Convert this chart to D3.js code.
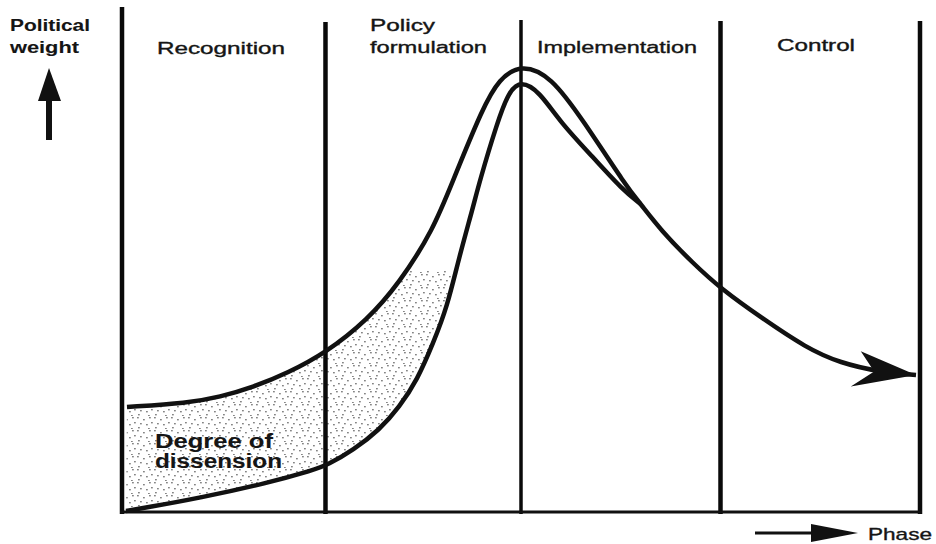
<!DOCTYPE html>
<html>
<head>
<meta charset="utf-8">
<script src="https://cdn.jsdelivr.net/npm/d3@7"></script>
<style>
  body { margin:0; background:#fff; }
  svg text { font-family: "Liberation Sans", Arial, sans-serif; fill:#151515; stroke:#151515; stroke-width:0.35px; }
</style>
</head>
<body>
<svg id="chart" width="936" height="544"></svg>
<script>
// phases along the x axis (units: phase index), boundaries between them
const phases = ["Recognition", "Policy formulation", "Implementation", "Control"]
const phaseBounds = [0, 1.02, 2.0, 3.0, 4.0]

// upper curve: political weight (0-100) by phase position, incl. the common tail
const upperCurve = [
  [0.025, 20.8], [0.33, 21.6], [0.49, 22.8], [0.66, 24.8], [0.83, 27.6],
  [1.02, 31.6], [1.23, 38.2], [1.39, 45.6], [1.56, 56.2], [1.66, 66.2],
  [1.81, 80.8], [1.89, 86.4], [2.0, 89.4], [2.15, 87.0], [2.31, 78.2],
  [2.53, 64.8], [2.60, 61.4], [2.70, 56.2], [2.86, 49.6], [3.01, 44.2],
  [3.20, 38.8], [3.43, 32.6], [3.60, 29.6], [3.80, 27.8], [3.98, 27.2]
]
// lower curve: rises later, meets the upper curve after the peak
const lowerCurve = [
  [0.02, 0], [0.11, 0.6], [0.39, 2.6], [0.73, 5.6], [0.96, 8.2],
  [1.03, 9.2], [1.16, 12.2], [1.29, 16.2], [1.39, 20.8], [1.48, 26.2],
  [1.56, 33.6], [1.63, 40.8], [1.69, 50.8], [1.76, 60.8], [1.79, 65.6],
  [1.88, 77.6], [1.94, 84.0], [2.0, 86.0], [2.09, 84.0], [2.20, 77.6],
  [2.36, 70.8], [2.51, 64.2], [2.60, 61.4]
]
const axisLabels = { y: ["Political", "weight"], x: "Phase" }
const areaLabel = ["Degree of", "dissension"]

const svg = d3.select("#chart")
const x = d3.scaleLinear().domain([0, 4]).range([122, 920])
const y = d3.scaleLinear().domain([0, 100]).range([511, 11])

//stipple texture for the dissension area
const defs = svg.append("defs")
const pat = defs.append("pattern").attr("id","stip").attr("patternUnits","userSpaceOnUse")
  .attr("width", 17).attr("height", 13)
;[[1,1],[7,3],[13,1],[4,7],[10,8],[15,6],[2,11],[12,12]].forEach(p => {
  pat.append("rect").attr("x",p[0]).attr("y",p[1]).attr("width",1.8).attr("height",1.4)
    .attr("fill","#333").attr("opacity",0.6)
})
defs.append("clipPath").attr("id","stipClip").append("rect")
  .attr("x", x(0)).attr("y", y(48)).attr("width", 400).attr("height", 300)

defs.append("marker").attr("id","head").attr("markerUnits","userSpaceOnUse")
  .attr("viewBox","-66 -22 68 44").attr("refX",0).attr("refY",0)
  .attr("markerWidth",68).attr("markerHeight",44).attr("orient","auto")
  .append("path").attr("d","M0,0 L-57,-19 L-42,0 L-64,17 Z").attr("fill","#111")

const line = d3.line().x(d=>x(d[0])).y(d=>y(d[1])).curve(d3.curveBasis)

// area between the curves, up to the merge point
let mergeIdx = upperCurve.findIndex(d => d[0] >= 2.60)
let upPart = upperCurve.slice(0, mergeIdx+1)
let areaPath = line(upPart) + line(lowerCurve.slice().reverse()).replace(/^M/,"L") + "Z"
svg.append("path").attr("d", areaPath)
  .attr("fill","url(#stip)").attr("clip-path","url(#stipClip)")

// phase boundaries
const lineTop = [7, 22, 20, 21, 21]
svg.selectAll("line.phase").data(phaseBounds).enter().append("line")
  .attr("class","phase")
  .attr("x1", d=>x(d)).attr("x2", d=>x(d))
  .attr("y1", (d,i)=>lineTop[i]).attr("y2", y(0)+3)
  .attr("stroke","#0a0a0a").attr("stroke-width", (d,i)=> i==2 ? 3.5 : 4.5)

// baseline
svg.append("line").attr("x1", x(0)-2).attr("x2", x(4)+2).attr("y1", y(0)+1).attr("y2", y(0)+1)
  .attr("stroke","#111").attr("stroke-width",3)

// curves
svg.append("path").attr("d", line(lowerCurve)).attr("fill","none")
  .attr("stroke","#111").attr("stroke-width",4.5).attr("stroke-linejoin","round")
svg.append("path").attr("d", line(upperCurve)).attr("fill","none")
  .attr("stroke","#111").attr("stroke-width",4.5).attr("stroke-linejoin","round")
  .attr("marker-end","url(#head)")

// phase labels
const phaseText = [
  {lines:["Recognition"], x:157, w:[128], y:[54]},
  {lines:["Policy","formulation"], x:370, w:[65,117], y:[31,53]},
  {lines:["Implementation"], x:537, w:[160], y:[53]},
  {lines:["Control"], x:777, w:[78], y:[51]}
]
phases.forEach((p,i) => {
  let t = phaseText[i]
  t.lines.forEach((s,j) => {
    svg.append("text").attr("x", t.x).attr("y", t.y[j]).text(s)
      .attr("font-size", 16).attr("textLength", t.w[j]).attr("lengthAdjust","spacingAndGlyphs")
  })
})

// y axis label + arrow
const yW = [80, 69]
axisLabels.y.forEach((s,j) => {
  svg.append("text").attr("x", 10).attr("y", 31 + j*22).text(s)
    .attr("font-size", 16).attr("font-weight","bold").style("stroke-width","0.1px")
    .attr("textLength", yW[j]).attr("lengthAdjust","spacingAndGlyphs")
})
svg.append("line").attr("x1",49).attr("x2",49).attr("y1",98).attr("y2",140)
  .attr("stroke","#111").attr("stroke-width",6)
svg.append("path").attr("d","M49,68 L38,101 L61,101 Z").attr("fill","#111")

// x axis label + arrow
svg.append("line").attr("x1",755).attr("x2",815).attr("y1",533).attr("y2",533)
  .attr("stroke","#111").attr("stroke-width",3)
svg.append("path").attr("d","M858,533 L811,524 L811,542 Z").attr("fill","#111")
svg.append("text").attr("x",868).attr("y",540).text(axisLabels.x)
  .attr("font-size",17).attr("textLength",64).attr("lengthAdjust","spacingAndGlyphs")

// label inside the area
const aW = [118, 127]
areaLabel.forEach((s,j) => {
  svg.append("text").attr("x",155).attr("y", 448 + j*20).text(s)
    .attr("font-size",20).attr("font-weight","bold").style("stroke-width","0.1px")
    .attr("textLength", aW[j]).attr("lengthAdjust","spacingAndGlyphs")
})
</script>
</body>
</html>
